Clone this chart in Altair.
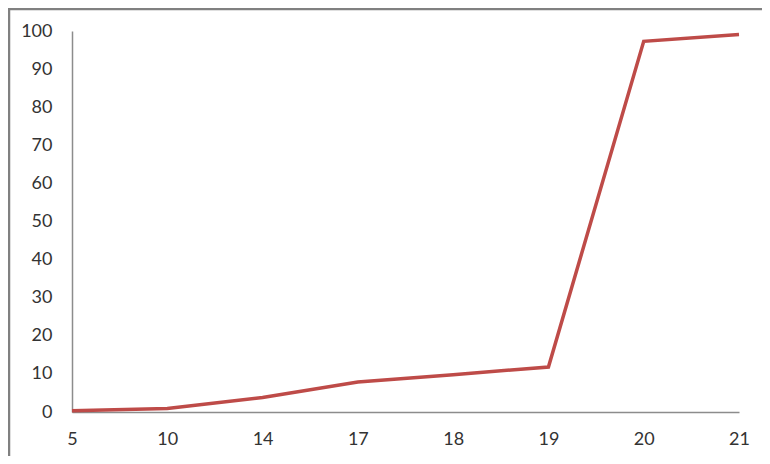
import altair as alt
import pandas as pd

categories = ["5", "10", "14", "17", "18", "19", "20", "21"]
values = [0.3, 0.9, 3.8, 7.9, 9.8, 11.8, 97.3, 99.1]

df = pd.DataFrame({"x": categories, "y": values})

W, H = 667, 381

line = alt.Chart(df).mark_line(color="#BE4B48", strokeWidth=3.5).encode(
    x=alt.X("x:O", sort=categories, scale=alt.Scale(type="point", padding=0),
            axis=alt.Axis(title=None, labelAngle=0, ticks=False, domainColor="#8c8c8c",
                          domainWidth=1.5, labelPadding=18, labelFontSize=18,
                          labelColor="#333333", labelFont="Lato")),
    y=alt.Y("y:Q", scale=alt.Scale(domain=[0, 100], nice=False),
            axis=alt.Axis(title=None, values=list(range(0, 101, 10)), ticks=False,
                          grid=False, domainColor="#8c8c8c", domainWidth=1.5,
                          labelPadding=20, labelFontSize=18, labelColor="#333333",
                          labelFont="Lato")),
)

border = alt.Chart(pd.DataFrame({"a": [0]})).mark_rect(
    fill=None, stroke="#808080", strokeWidth=2.5
).encode(
    x=alt.value(-63), x2=alt.value(720), y=alt.value(-22), y2=alt.value(460)
)

chart = alt.layer(line, border).properties(
    width=W, height=H,
    autosize=alt.AutoSizeParams(type="none"),
    padding={"left": 64, "top": 23, "right": 23, "bottom": 44},
).configure_view(stroke=None)

chart.save("out.html", embed_options={"renderer": "svg", "actions": False})
